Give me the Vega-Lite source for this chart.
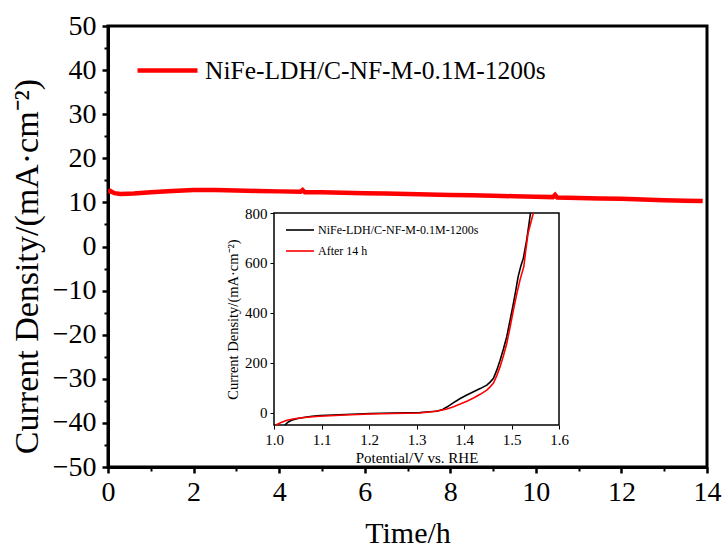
{
  "$schema": "https://vega.github.io/schema/vega-lite/v6.json",
  "width": 599,
  "height": 441,
  "autosize": {"type": "none"},
  "padding": {"left": 108, "top": 26, "right": 17, "bottom": 82},
  "background": "white",
  "config": {
    "font": "Liberation Serif",
    "view": {"stroke": "black", "strokeWidth": 3},
    "axis": {
      "grid": false,
      "labelFont": "Liberation Serif",
      "titleFont": "Liberation Serif",
      "labelColor": "black",
      "titleColor": "black",
      "domainColor": "black",
      "tickColor": "black",
      "titleFontWeight": "normal",
      "labelFlush": false,
      "labelOverlap": false
    },
    "legend": {"labelFont": "Liberation Serif", "labelColor": "black", "labelLimit": 0}
  },
  "datasets": {
    "stability": [
      {"t": 0.0, "j": 12.3, "series": "NiFe-LDH/C-NF-M-0.1M-1200s"},
      {"t": 0.05, "j": 12.6, "series": "NiFe-LDH/C-NF-M-0.1M-1200s"},
      {"t": 0.15, "j": 12.1, "series": "NiFe-LDH/C-NF-M-0.1M-1200s"},
      {"t": 0.3, "j": 11.9, "series": "NiFe-LDH/C-NF-M-0.1M-1200s"},
      {"t": 0.6, "j": 12.0, "series": "NiFe-LDH/C-NF-M-0.1M-1200s"},
      {"t": 1.0, "j": 12.3, "series": "NiFe-LDH/C-NF-M-0.1M-1200s"},
      {"t": 1.5, "j": 12.6, "series": "NiFe-LDH/C-NF-M-0.1M-1200s"},
      {"t": 2.0, "j": 12.8, "series": "NiFe-LDH/C-NF-M-0.1M-1200s"},
      {"t": 2.5, "j": 12.8, "series": "NiFe-LDH/C-NF-M-0.1M-1200s"},
      {"t": 3.0, "j": 12.7, "series": "NiFe-LDH/C-NF-M-0.1M-1200s"},
      {"t": 3.5, "j": 12.6, "series": "NiFe-LDH/C-NF-M-0.1M-1200s"},
      {"t": 4.0, "j": 12.5, "series": "NiFe-LDH/C-NF-M-0.1M-1200s"},
      {"t": 4.5, "j": 12.4, "series": "NiFe-LDH/C-NF-M-0.1M-1200s"},
      {"t": 4.55, "j": 12.8, "series": "NiFe-LDH/C-NF-M-0.1M-1200s"},
      {"t": 4.6, "j": 12.3, "series": "NiFe-LDH/C-NF-M-0.1M-1200s"},
      {"t": 5.0, "j": 12.3, "series": "NiFe-LDH/C-NF-M-0.1M-1200s"},
      {"t": 5.5, "j": 12.2, "series": "NiFe-LDH/C-NF-M-0.1M-1200s"},
      {"t": 6.0, "j": 12.1, "series": "NiFe-LDH/C-NF-M-0.1M-1200s"},
      {"t": 6.5, "j": 12.0, "series": "NiFe-LDH/C-NF-M-0.1M-1200s"},
      {"t": 7.0, "j": 11.9, "series": "NiFe-LDH/C-NF-M-0.1M-1200s"},
      {"t": 7.5, "j": 11.8, "series": "NiFe-LDH/C-NF-M-0.1M-1200s"},
      {"t": 8.0, "j": 11.7, "series": "NiFe-LDH/C-NF-M-0.1M-1200s"},
      {"t": 8.5, "j": 11.6, "series": "NiFe-LDH/C-NF-M-0.1M-1200s"},
      {"t": 9.0, "j": 11.5, "series": "NiFe-LDH/C-NF-M-0.1M-1200s"},
      {"t": 9.5, "j": 11.4, "series": "NiFe-LDH/C-NF-M-0.1M-1200s"},
      {"t": 10.0, "j": 11.3, "series": "NiFe-LDH/C-NF-M-0.1M-1200s"},
      {"t": 10.4, "j": 11.2, "series": "NiFe-LDH/C-NF-M-0.1M-1200s"},
      {"t": 10.45, "j": 11.7, "series": "NiFe-LDH/C-NF-M-0.1M-1200s"},
      {"t": 10.5, "j": 11.1, "series": "NiFe-LDH/C-NF-M-0.1M-1200s"},
      {"t": 11.0, "j": 11.0, "series": "NiFe-LDH/C-NF-M-0.1M-1200s"},
      {"t": 11.5, "j": 10.9, "series": "NiFe-LDH/C-NF-M-0.1M-1200s"},
      {"t": 12.0, "j": 10.8, "series": "NiFe-LDH/C-NF-M-0.1M-1200s"},
      {"t": 12.5, "j": 10.65, "series": "NiFe-LDH/C-NF-M-0.1M-1200s"},
      {"t": 13.0, "j": 10.5, "series": "NiFe-LDH/C-NF-M-0.1M-1200s"},
      {"t": 13.5, "j": 10.4, "series": "NiFe-LDH/C-NF-M-0.1M-1200s"},
      {"t": 13.9, "j": 10.3, "series": "NiFe-LDH/C-NF-M-0.1M-1200s"}
    ],
    "lsv": [
      {"v": 1.023, "j": -50, "curve": "NiFe-LDH/C-NF-M-0.1M-1200s"},
      {"v": 1.030, "j": -38, "curve": "NiFe-LDH/C-NF-M-0.1M-1200s"},
      {"v": 1.037, "j": -31, "curve": "NiFe-LDH/C-NF-M-0.1M-1200s"},
      {"v": 1.050, "j": -24, "curve": "NiFe-LDH/C-NF-M-0.1M-1200s"},
      {"v": 1.062, "j": -20, "curve": "NiFe-LDH/C-NF-M-0.1M-1200s"},
      {"v": 1.080, "j": -15, "curve": "NiFe-LDH/C-NF-M-0.1M-1200s"},
      {"v": 1.097, "j": -12, "curve": "NiFe-LDH/C-NF-M-0.1M-1200s"},
      {"v": 1.150, "j": -8, "curve": "NiFe-LDH/C-NF-M-0.1M-1200s"},
      {"v": 1.202, "j": -4, "curve": "NiFe-LDH/C-NF-M-0.1M-1200s"},
      {"v": 1.250, "j": -2, "curve": "NiFe-LDH/C-NF-M-0.1M-1200s"},
      {"v": 1.307, "j": 0, "curve": "NiFe-LDH/C-NF-M-0.1M-1200s"},
      {"v": 1.342, "j": 5, "curve": "NiFe-LDH/C-NF-M-0.1M-1200s"},
      {"v": 1.355, "j": 12, "curve": "NiFe-LDH/C-NF-M-0.1M-1200s"},
      {"v": 1.364, "j": 22, "curve": "NiFe-LDH/C-NF-M-0.1M-1200s"},
      {"v": 1.378, "j": 40, "curve": "NiFe-LDH/C-NF-M-0.1M-1200s"},
      {"v": 1.392, "j": 56, "curve": "NiFe-LDH/C-NF-M-0.1M-1200s"},
      {"v": 1.406, "j": 70, "curve": "NiFe-LDH/C-NF-M-0.1M-1200s"},
      {"v": 1.420, "j": 83, "curve": "NiFe-LDH/C-NF-M-0.1M-1200s"},
      {"v": 1.434, "j": 96, "curve": "NiFe-LDH/C-NF-M-0.1M-1200s"},
      {"v": 1.448, "j": 110, "curve": "NiFe-LDH/C-NF-M-0.1M-1200s"},
      {"v": 1.455, "j": 122, "curve": "NiFe-LDH/C-NF-M-0.1M-1200s"},
      {"v": 1.462, "j": 137, "curve": "NiFe-LDH/C-NF-M-0.1M-1200s"},
      {"v": 1.469, "j": 170, "curve": "NiFe-LDH/C-NF-M-0.1M-1200s"},
      {"v": 1.476, "j": 210, "curve": "NiFe-LDH/C-NF-M-0.1M-1200s"},
      {"v": 1.483, "j": 255, "curve": "NiFe-LDH/C-NF-M-0.1M-1200s"},
      {"v": 1.490, "j": 304, "curve": "NiFe-LDH/C-NF-M-0.1M-1200s"},
      {"v": 1.497, "j": 370, "curve": "NiFe-LDH/C-NF-M-0.1M-1200s"},
      {"v": 1.504, "j": 438, "curve": "NiFe-LDH/C-NF-M-0.1M-1200s"},
      {"v": 1.509, "j": 490, "curve": "NiFe-LDH/C-NF-M-0.1M-1200s"},
      {"v": 1.514, "j": 545, "curve": "NiFe-LDH/C-NF-M-0.1M-1200s"},
      {"v": 1.520, "j": 590, "curve": "NiFe-LDH/C-NF-M-0.1M-1200s"},
      {"v": 1.525, "j": 619, "curve": "NiFe-LDH/C-NF-M-0.1M-1200s"},
      {"v": 1.532, "j": 692, "curve": "NiFe-LDH/C-NF-M-0.1M-1200s"},
      {"v": 1.536, "j": 745, "curve": "NiFe-LDH/C-NF-M-0.1M-1200s"},
      {"v": 1.540, "j": 800, "curve": "NiFe-LDH/C-NF-M-0.1M-1200s"},
      {"v": 1.004, "j": -50, "curve": "After 14 h"},
      {"v": 1.015, "j": -40, "curve": "After 14 h"},
      {"v": 1.027, "j": -31, "curve": "After 14 h"},
      {"v": 1.040, "j": -26, "curve": "After 14 h"},
      {"v": 1.054, "j": -22, "curve": "After 14 h"},
      {"v": 1.075, "j": -18, "curve": "After 14 h"},
      {"v": 1.097, "j": -15, "curve": "After 14 h"},
      {"v": 1.150, "j": -10, "curve": "After 14 h"},
      {"v": 1.202, "j": -6, "curve": "After 14 h"},
      {"v": 1.250, "j": -4, "curve": "After 14 h"},
      {"v": 1.307, "j": -2, "curve": "After 14 h"},
      {"v": 1.335, "j": 4, "curve": "After 14 h"},
      {"v": 1.350, "j": 8, "curve": "After 14 h"},
      {"v": 1.364, "j": 14, "curve": "After 14 h"},
      {"v": 1.378, "j": 23, "curve": "After 14 h"},
      {"v": 1.392, "j": 34, "curve": "After 14 h"},
      {"v": 1.406, "j": 45, "curve": "After 14 h"},
      {"v": 1.420, "j": 58, "curve": "After 14 h"},
      {"v": 1.434, "j": 73, "curve": "After 14 h"},
      {"v": 1.448, "j": 90, "curve": "After 14 h"},
      {"v": 1.455, "j": 103, "curve": "After 14 h"},
      {"v": 1.462, "j": 118, "curve": "After 14 h"},
      {"v": 1.469, "j": 148, "curve": "After 14 h"},
      {"v": 1.476, "j": 184, "curve": "After 14 h"},
      {"v": 1.483, "j": 228, "curve": "After 14 h"},
      {"v": 1.490, "j": 277, "curve": "After 14 h"},
      {"v": 1.497, "j": 342, "curve": "After 14 h"},
      {"v": 1.504, "j": 411, "curve": "After 14 h"},
      {"v": 1.511, "j": 475, "curve": "After 14 h"},
      {"v": 1.518, "j": 532, "curve": "After 14 h"},
      {"v": 1.526, "j": 586, "curve": "After 14 h"},
      {"v": 1.530, "j": 650, "curve": "After 14 h"},
      {"v": 1.535, "j": 720, "curve": "After 14 h"},
      {"v": 1.546, "j": 800, "curve": "After 14 h"}
    ]
  },
  "layer": [
    {
      "data": {"name": "stability"},
      "mark": {"type": "line", "strokeWidth": 4.5, "clip": true},
      "encoding": {
        "x": {
          "field": "t",
          "type": "quantitative",
          "scale": {"domain": [0, 14], "nice": false, "zero": false},
          "axis": {
            "orient": "bottom",
            "values": [0, 2, 4, 6, 8, 10, 12, 14],
            "title": "Time/h",
            "labelFont": "Liberation Serif",
            "titleFont": "Liberation Serif",
            "labelFontSize": 28,
            "titleFontSize": 30,
            "tickSize": 6,
            "tickWidth": 2.5,
            "domainWidth": 3,
            "labelPadding": 5,
            "titlePadding": 12
          }
        },
        "y": {
          "field": "j",
          "type": "quantitative",
          "scale": {"domain": [-50, 50], "nice": false, "zero": false},
          "axis": {
            "orient": "left",
            "values": [-50, -40, -30, -20, -10, 0, 10, 20, 30, 40, 50],
            "title": "Current Density/(mA·cm⁻²)",
            "titleY": 240,
            "labelFont": "Liberation Serif",
            "titleFont": "Liberation Serif",
            "labelFontSize": 28,
            "titleFontSize": 34,
            "tickSize": 6,
            "tickWidth": 2.5,
            "domainWidth": 3,
            "labelPadding": 6,
            "titlePadding": 8
          }
        },
        "color": {
          "field": "series",
          "type": "nominal",
          "scale": {"range": ["#ff0000"]},
          "legend": {
            "orient": "none",
            "legendX": 27,
            "legendY": 12,
            "title": null,
            "padding": 0,
            "symbolType": "M-1,0H1",
            "symbolSize": 3600,
            "symbolStrokeWidth": 4.5,
            "labelFont": "Liberation Serif",
            "labelFontSize": 25.5,
            "labelLimit": 0,
            "labelOffset": 5
          }
        }
      }
    },
    {
      "data": {"name": "stability"},
      "mark": {"type": "line", "strokeOpacity": 0},
      "encoding": {
        "x": {
          "field": "t",
          "type": "quantitative",
          "scale": {"domain": [0, 14], "nice": false, "zero": false},
          "axis": {
            "orient": "bottom",
            "values": [1, 3, 5, 7, 9, 11, 13],
            "labels": false,
            "domain": false,
            "title": null,
            "tickSize": 4,
            "tickWidth": 2
          }
        },
        "y": {
          "field": "j",
          "type": "quantitative",
          "scale": {"domain": [-50, 50], "nice": false, "zero": false},
          "axis": {
            "orient": "left",
            "values": [-45, -35, -25, -15, -5, 5, 15, 25, 35, 45],
            "labels": false,
            "domain": false,
            "title": null,
            "tickSize": 4,
            "tickWidth": 2
          }
        }
      }
    },
    {
      "layer": [
        {
          "data": {"values": [{}]},
          "mark": {"type": "rect", "fill": "white", "stroke": "black", "strokeWidth": 1.5},
          "encoding": {
            "x": {
              "datum": 1.0,
              "type": "quantitative",
              "scale": {"domain": [1.0, 1.6], "range": [166, 451], "nice": false, "zero": false},
              "axis": {
                "orient": "bottom",
                "offset": -42,
                "values": [1.0, 1.1, 1.2, 1.3, 1.4, 1.5, 1.6],
                "format": ".1f",
                "title": "Potential/V vs. RHE",
                "labelFont": "Liberation Serif",
                "titleFont": "Liberation Serif",
                "labelFontSize": 15,
                "titleFontSize": 15,
                "domain": false,
                "tickSize": 4,
                "tickWidth": 1,
                "labelPadding": 3,
                "titlePadding": 3
              }
            },
            "x2": {"datum": 1.6},
            "y": {
              "datum": -50,
              "type": "quantitative",
              "scale": {"domain": [-50, 800], "range": [399, 187], "nice": false, "zero": false},
              "axis": {
                "orient": "left",
                "offset": -166,
                "values": [0, 200, 400, 600, 800],
                "title": "Current Density/(mA·cm⁻²)",
                "labelFont": "Liberation Serif",
                "titleFont": "Liberation Serif",
                "labelFontSize": 15,
                "titleFontSize": 14.5,
                "domain": false,
                "tickSize": 4,
                "tickWidth": 1,
                "labelPadding": 3,
                "titlePadding": 4
              }
            },
            "y2": {"datum": 800}
          }
        },
        {
          "data": {"name": "lsv"},
          "mark": {"type": "line", "strokeWidth": 1.6, "clip": true},
          "encoding": {
            "x": {
              "field": "v",
              "type": "quantitative",
              "scale": {"domain": [1.0, 1.6], "range": [166, 451], "nice": false, "zero": false},
              "axis": {
                "orient": "bottom",
                "offset": -42,
                "values": [1.0, 1.1, 1.2, 1.3, 1.4, 1.5, 1.6],
                "format": ".1f",
                "title": "Potential/V vs. RHE",
                "labelFont": "Liberation Serif",
                "titleFont": "Liberation Serif",
                "labelFontSize": 15,
                "titleFontSize": 15,
                "domain": false,
                "tickSize": 4,
                "tickWidth": 1,
                "labelPadding": 3,
                "titlePadding": 3
              }
            },
            "y": {
              "field": "j",
              "type": "quantitative",
              "scale": {"domain": [-50, 800], "range": [399, 187], "nice": false, "zero": false},
              "axis": {
                "orient": "left",
                "offset": -166,
                "values": [0, 200, 400, 600, 800],
                "title": "Current Density/(mA·cm⁻²)",
                "labelFont": "Liberation Serif",
                "titleFont": "Liberation Serif",
                "labelFontSize": 15,
                "titleFontSize": 14.5,
                "domain": false,
                "tickSize": 4,
                "tickWidth": 1,
                "labelPadding": 3,
                "titlePadding": 4
              }
            },
            "color": {
              "field": "curve",
              "type": "nominal",
              "sort": ["NiFe-LDH/C-NF-M-0.1M-1200s", "After 14 h"],
              "scale": {"domain": ["NiFe-LDH/C-NF-M-0.1M-1200s", "After 14 h"], "range": ["black", "#ff0000"]},
              "legend": {
                "orient": "none",
                "legendX": 177,
                "legendY": 189,
                "title": null,
                "padding": 0,
                "symbolType": "M-1,0H1",
                "symbolSize": 784,
                "symbolStrokeWidth": 1.6,
                "labelFont": "Liberation Serif",
                "labelFontSize": 12,
                "labelLimit": 0,
                "labelOffset": 3,
                "rowPadding": -4
              }
            }
          }
        }
      ]
    }
  ],
  "resolve": {
    "scale": {"x": "independent", "y": "independent", "color": "independent"},
    "axis": {"x": "independent", "y": "independent"},
    "legend": {"color": "independent"}
  }
}
